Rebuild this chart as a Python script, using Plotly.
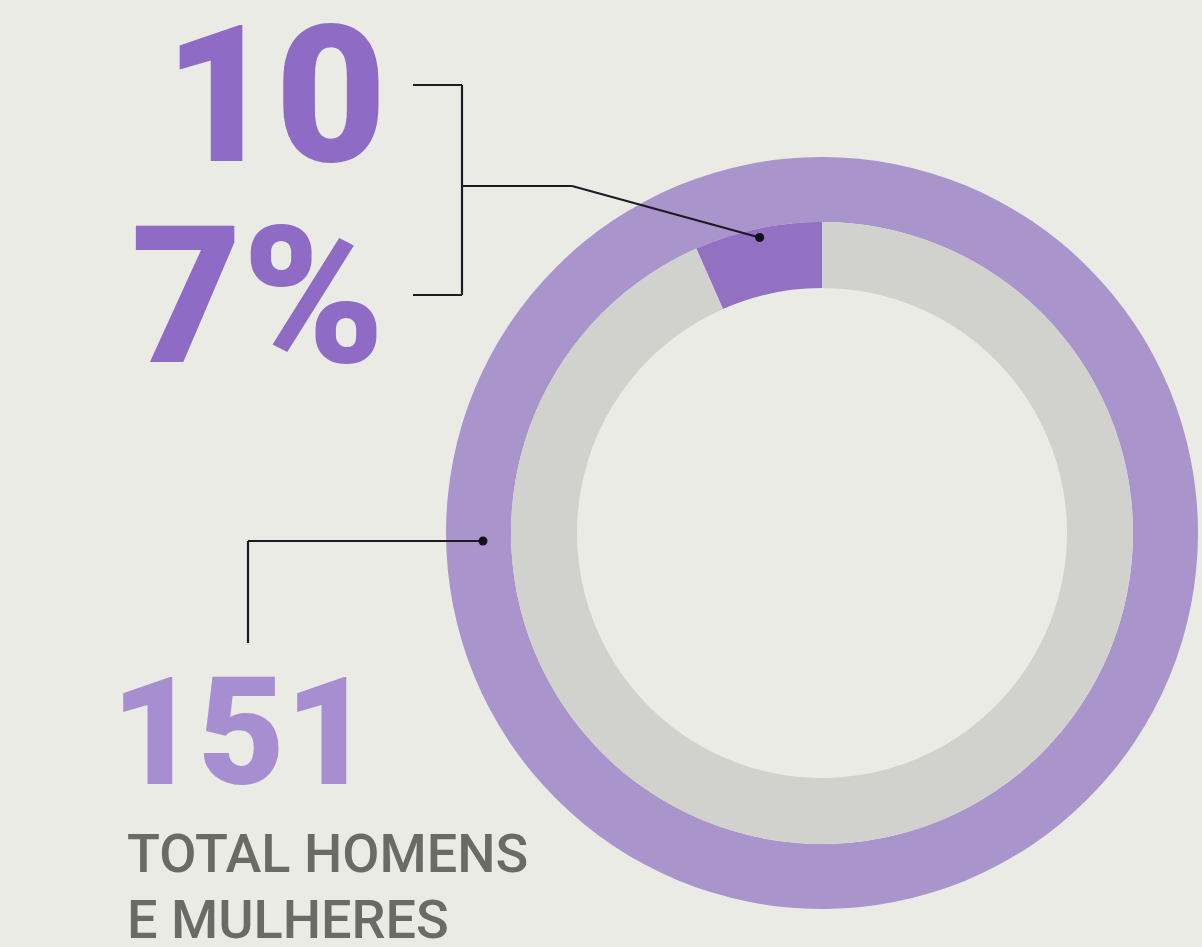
import math
import plotly.graph_objects as go

# ---- data ----
total_value = 151
highlight_value = 10
highlight_pct = "7%"
total_line1 = "TOTAL HOMENS"
total_line2 = "E MULHERES"
outer_labels = ["Total homens e mulheres"]
outer_values = [total_value]
inner_labels = ["Destaque", "Restante"]
inner_values = [highlight_value, total_value - highlight_value]

# ---- style ----
W, H = 1202, 947
BG = "#EBEBE6"
OUTER_C = "#A994CB"
DARK_C = "#9270C2"
GRAY_C = "#D1D1CD"
NUM_C = "#8E6CC6"
NUM2_C = "#A68ED0"
TXT_C = "#6A6A67"

CX, CY = 822, 533
R_OUT, R_MID, R_IN = 376, 311, 245


def px(x):
    return x / W


def py(y):
    return 1 - y / H


def dom(r):
    return dict(x=[px(CX - r), px(CX + r)], y=[py(CY + r), py(CY - r)])


# highlighted slice ends at 12 o'clock and extends to the left
slice_deg = highlight_value / total_value * 360

fig = go.Figure()
fig.add_trace(go.Pie(
    labels=outer_labels, values=outer_values, hole=R_MID / R_OUT,
    domain=dom(R_OUT), sort=False, direction="clockwise",
    marker=dict(colors=[OUTER_C], line=dict(width=0)),
    textinfo="none", hoverinfo="label+value", showlegend=False,
))
fig.add_trace(go.Pie(
    labels=inner_labels, values=inner_values, hole=R_IN / R_MID,
    domain=dom(R_MID), sort=False, direction="clockwise", rotation=-slice_deg,
    marker=dict(colors=[DARK_C, GRAY_C], line=dict(width=0)),
    textinfo="none", hoverinfo="label+value", showlegend=False,
))

shapes = []
LINE = dict(color="#1E1A24", width=2.2)


def seg(x0, y0, x1, y1):
    shapes.append(dict(type="line", xref="paper", yref="paper",
                       x0=px(x0), y0=py(y0), x1=px(x1), y1=py(y1), line=LINE))


def dot(x, y, r=4.5):
    shapes.append(dict(type="circle", xref="paper", yref="paper",
                       x0=px(x - r), y0=py(y + r), x1=px(x + r), y1=py(y - r),
                       fillcolor="#111018", line=dict(width=0)))


# highlight leader: dot in the middle of the highlighted slice
ang = math.radians(slice_deg / 2)
dx, dy = CX - 302 * math.sin(ang), CY - 302 * math.cos(ang)
seg(413, 85, 462, 85)
seg(462, 85, 462, 295)
seg(413, 295, 462, 295)
seg(462, 186, 572, 186)
seg(572, 186, dx, dy)
dot(dx, dy)

# total leader
seg(483, 541, 248, 541)
seg(248, 541, 248, 643)
dot(483, 541)

NFONT = "Roboto"
ann = [
    dict(text=str(highlight_value), x=px(389), y=py(95), xanchor="right", yanchor="middle",
         font=dict(family=NFONT, size=192, color=NUM_C, weight=900)),
    dict(text=highlight_pct, x=px(387), y=py(296), xanchor="right", yanchor="middle",
         font=dict(family=NFONT, size=192, color=NUM_C, weight=900)),
    dict(text=str(total_value), x=px(109), y=py(733), xanchor="left", yanchor="middle",
         font=dict(family=NFONT, size=150, color=NUM2_C, weight=900)),
    dict(text=total_line1, x=px(125), y=py(853), xanchor="left", yanchor="middle",
         font=dict(family=NFONT, size=54, color=TXT_C, weight=500)),
    dict(text=total_line2, x=px(125), y=py(919), xanchor="left", yanchor="middle",
         font=dict(family=NFONT, size=54, color=TXT_C, weight=500)),
]
for a in ann:
    a.update(xref="paper", yref="paper", showarrow=False)

fig.update_layout(
    width=W, height=H, margin=dict(l=0, r=0, t=0, b=0),
    paper_bgcolor=BG, plot_bgcolor=BG,
    shapes=shapes, annotations=ann, showlegend=False,
)
fig.write_html("out.html", config={"displayModeBar": False},
               post_script="document.body.style.margin='0';")
